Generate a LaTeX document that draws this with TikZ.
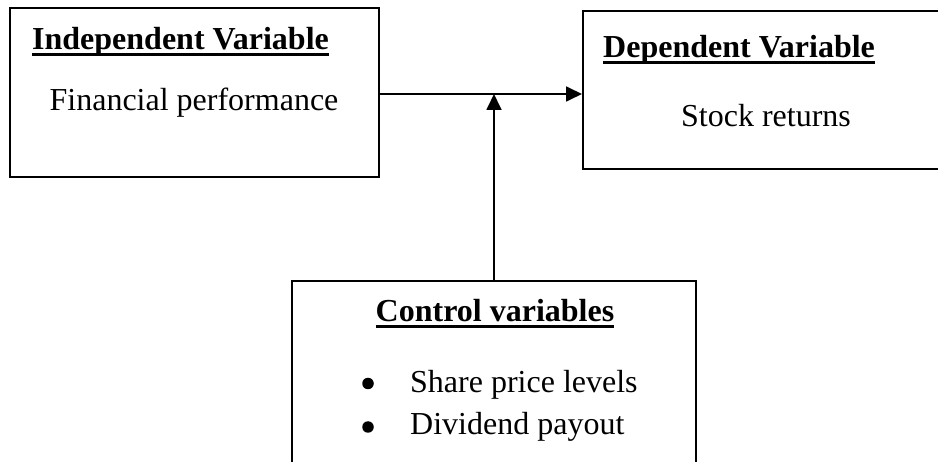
\documentclass[tikz,border=0pt]{standalone}
\usepackage{fontspec}
\setmainfont{Liberation Serif}
\usetikzlibrary{arrows.meta}
\tikzset{
  boxnode/.style={draw, line width=2pt, inner sep=0pt},
  txt/.style={inner sep=0pt, font=\fontsize{32}{40}\selectfont},
  ttl/.style={inner sep=0pt, font=\fontsize{32}{40}\selectfont\bfseries},
  uline/.style={line width=2.2pt},
  bul/.style={circle, fill, inner sep=0pt, minimum size=11.5pt},
  conn/.style={line width=1.8pt, -{Triangle[length=16pt,width=15pt]}}
}
\begin{document}
\begin{tikzpicture}[x=1pt,y=-1pt]
\useasboundingbox (0,0) rectangle (938,462);
\clip (0,0) rectangle (938,462);
% boxes
\node[boxnode, minimum width=369pt, minimum height=169pt] (indep) at (194.5,92.5) {};
\node[boxnode, minimum width=377pt, minimum height=158pt] (dep) at (771.5,90) {};
\node[boxnode, minimum width=404pt, minimum height=199pt] (ctrl) at (494,380.5) {};
% texts
\node[ttl, anchor=base west] (t1) at (32,50) {Independent Variable};
\draw[uline] ([yshift=-4.5pt]t1.base west) -- ([yshift=-4.5pt]t1.base east);
\node[txt, anchor=base] (f1) at (194,111) {Financial performance};
\node[ttl, anchor=base west] (t2) at (603,58) {Dependent Variable};
\draw[uline] ([yshift=-4.5pt]t2.base west) -- ([yshift=-4.5pt]t2.base east);
\node[txt, anchor=base] (f2) at (766,127) {Stock returns};
\node[ttl, anchor=base] (t3) at (495,322) {Control variables};
\draw[uline] ([yshift=-4.5pt]t3.base west) -- ([yshift=-4.5pt]t3.base east);
\node[bul] (b1) at (368,383.5) {};
\node[txt, anchor=base west] (s1) at (410,393) {Share price levels};
\node[bul] (b2) at (368,427) {};
\node[txt, anchor=base west] (s2) at (410,435) {Dividend payout};
% connectors
\coordinate (j) at (494,94);
\draw[conn] (indep.east |- j) -- (dep.west |- j);
\draw[conn] (ctrl.north) -- (j);
\end{tikzpicture}
\end{document}
